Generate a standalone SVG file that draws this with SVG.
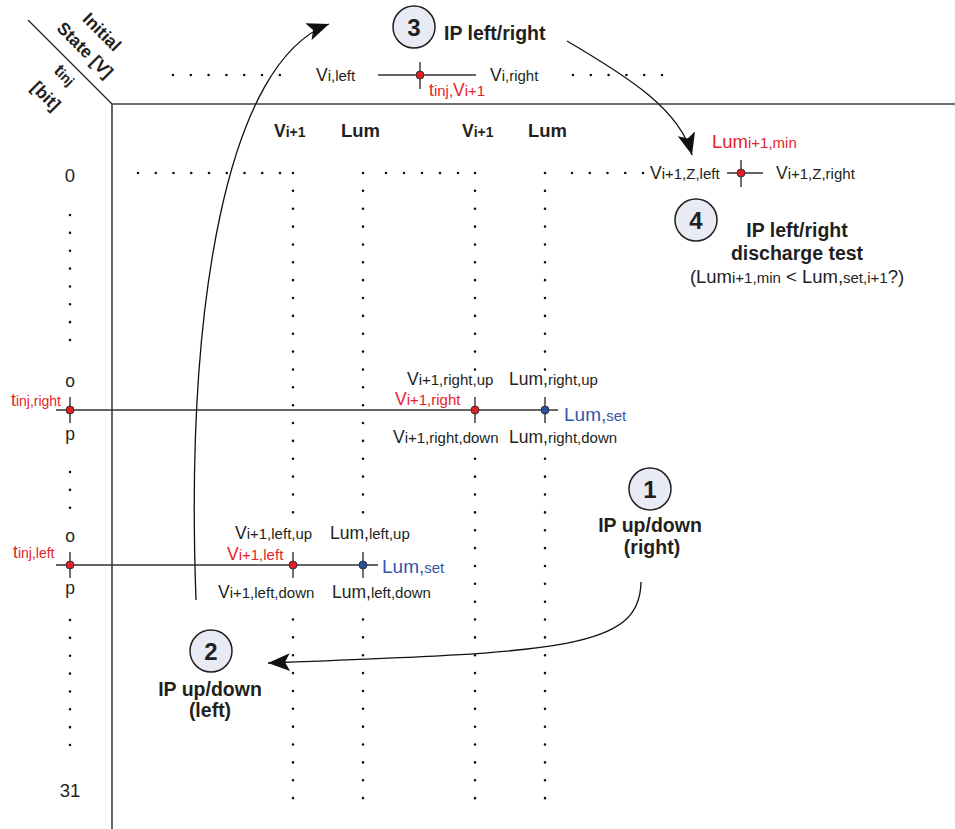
<svg xmlns="http://www.w3.org/2000/svg" width="955" height="829" viewBox="0 0 955 829">
  <style>
    text { font-family: "Liberation Sans", Arial, sans-serif; font-size: 17.5px; fill: #231f20; }
    .s { font-size: 15px; }
    .st { font-size: 14px; }
    .b { font-weight: bold; }
    .red { fill: #e5232b; }
    .blue { fill: #3556a8; }
    .mid { text-anchor: middle; }
    .axis { stroke: #404040; stroke-width: 1.6; fill: none; }
    .row { stroke: #333; stroke-width: 1.4; fill: none; }
    .tick { stroke: #333; stroke-width: 1.4; }
    .dots { stroke: #111; stroke-width: 2.6; stroke-linecap: round; fill: none; }
    .d1 { stroke-dasharray: 0 17.86; }
    .d2 { stroke-dasharray: 0 17.8; }
    .d3 { stroke-dasharray: 0 17.75; }
    .d4 { stroke-dasharray: 0 18; }
    .pr { fill: #e31e24; stroke: #2a2a2a; stroke-width: 0.9; }
    .pb { fill: #2e4f9e; stroke: #2a2a2a; stroke-width: 0.9; }
    .step { fill: #e8ebf4; stroke: #231f20; stroke-width: 1.5; }
    .num { font-size: 24px; font-weight: bold; text-anchor: middle; }
    .title { font-size: 19.5px; font-weight: bold; }
    .conn { stroke: #111; stroke-width: 1.3; fill: none; marker-end: url(#ah); }
  </style>
  <defs>
    <marker id="ah" markerUnits="userSpaceOnUse" viewBox="0 0 22 18" markerWidth="22" markerHeight="18" refX="22" refY="9" orient="auto">
      <path d="M0,0 L22,9 L0,18 L5,9 z" fill="#111"/>
    </marker>
  </defs>

  <!-- axes -->
  <g id="axes">
    <path class="axis" d="M112 104 H955 M112 104 V829"/>
    <path d="M28 20 L112 104" stroke="#222" stroke-width="1.2"/>
    <text class="b mid" transform="translate(102,32) rotate(45)" y="6">Initial</text>
    <text class="b mid" transform="translate(85,50) rotate(45)" y="6">State [V]</text>
    <text class="b mid" transform="translate(65,75) rotate(45)" y="6">t<tspan class="st">inj</tspan></text>
    <text class="b mid" transform="translate(46,96) rotate(45)" y="6">[bit]</text>
  </g>

  <!-- dotted grid -->
  <g id="grid">
    <path class="dots d2" d="M173 75 H280.5 M573 75 H662.5"/>
    <path class="dots d3" d="M138 173 H280.5 M572 173 H643.5"/>
    <path class="dots d4" d="M386 173 H458.5"/>
    <path class="dots d1" d="M293 173 V512.5 M293 619.5 V798.5 M363 173 V512.5 M363 619.5 V798.5"/>
    <path class="dots d1" d="M475 173 V369.7 M475 458.8 V798.5 M545 173 V369.7 M545 458.8 V798.5"/>
    <path class="dots d1" d="M70 215 V340.2 M70 472 V508 M70 620 V745.2"/>
  </g>

  <!-- row / column captions -->
  <g id="captions">
    <text class="b" x="274" y="137">V<tspan class="st">i+1</tspan></text>
    <text class="b" x="341" y="137" style="font-size:18.5px">Lum</text>
    <text class="b" x="462" y="137">V<tspan class="st">i+1</tspan></text>
    <text class="b" x="528" y="137" style="font-size:18.5px">Lum</text>
    <text class="mid" x="70" y="182" style="font-size:18.5px">0</text>
    <text class="mid" x="70" y="797" style="font-size:18.5px">31</text>
  </g>

  <!-- initial state crosshair -->
  <g id="state-i">
    <path class="row" d="M378 75 H476"/>
    <path class="tick" d="M420 62 V89"/>
    <circle class="pr" cx="420" cy="75" r="4"/>
    <text x="316" y="81">V<tspan class="s">i,left</tspan></text>
    <text x="490" y="81">V<tspan class="s">i,right</tspan></text>
    <text class="red" x="429" y="96">t<tspan class="s">inj,</tspan>V<tspan class="s">i+1</tspan></text>
  </g>

  <!-- next state crosshair -->
  <g id="state-next">
    <path class="row" d="M727 173 H763"/>
    <path class="tick" d="M741 160 V187"/>
    <circle class="pr" cx="741" cy="173" r="4"/>
    <text class="red" x="712" y="148" style="font-size:18.5px">Lum<tspan class="s">i+1,min</tspan></text>
    <text x="650" y="179">V<tspan class="s">i+1,Z,left</tspan></text>
    <text x="776" y="179">V<tspan class="s">i+1,Z,right</tspan></text>
  </g>

  <!-- right injection row -->
  <g id="row-right">
    <path class="row" d="M56 410 H558"/>
    <path class="tick" d="M70 397 V423 M475 397 V423 M545 397 V423"/>
    <circle class="pr" cx="70" cy="410" r="4"/>
    <circle class="pr" cx="475" cy="410" r="4"/>
    <circle class="pb" cx="545" cy="410" r="4"/>
    <text class="mid" x="70" y="387">o</text>
    <text class="mid" x="70" y="440">p</text>
    <text class="red" x="11" y="406">t<tspan class="st">inj,right</tspan></text>
    <text x="407" y="385">V<tspan class="s">i+1,right,up</tspan></text>
    <text x="509" y="385">Lum,<tspan class="s">right,up</tspan></text>
    <text class="red" x="395" y="405">V<tspan class="s">i+1,right</tspan></text>
    <text class="blue" x="564" y="421" style="font-size:19px">Lum,<tspan class="s">set</tspan></text>
    <text x="393" y="443">V<tspan class="s">i+1,right,down</tspan></text>
    <text x="509" y="443">Lum,<tspan class="s">right,down</tspan></text>
  </g>

  <!-- left injection row -->
  <g id="row-left">
    <path class="row" d="M56 565 H378"/>
    <path class="tick" d="M70 552 V578 M293 552 V578 M363 552 V578"/>
    <circle class="pr" cx="70" cy="565" r="4"/>
    <circle class="pr" cx="293" cy="565" r="4"/>
    <circle class="pb" cx="363" cy="565" r="4"/>
    <text class="mid" x="70" y="542">o</text>
    <text class="mid" x="70" y="594">p</text>
    <text class="red" x="13" y="558">t<tspan class="st">inj,left</tspan></text>
    <text x="235" y="539">V<tspan class="s">i+1,left,up</tspan></text>
    <text x="330" y="539">Lum,<tspan class="s">left,up</tspan></text>
    <text class="red" x="227" y="560">V<tspan class="s">i+1,left</tspan></text>
    <text class="blue" x="382" y="573" style="font-size:19px">Lum,<tspan class="s">set</tspan></text>
    <text x="218" y="598">V<tspan class="s">i+1,left,down</tspan></text>
    <text x="332" y="598">Lum,<tspan class="s">left,down</tspan></text>
  </g>

  <!-- process steps -->
  <g id="step1">
    <circle class="step" cx="650" cy="489" r="21"/>
    <text class="num" x="650" y="498">1</text>
    <text class="title mid" x="650" y="532">IP up/down</text>
    <text class="title mid" x="652" y="554">(right)</text>
  </g>
  <g id="step2">
    <circle class="step" cx="211" cy="651" r="21"/>
    <text class="num" x="211" y="660">2</text>
    <text class="title mid" x="210" y="696">IP up/down</text>
    <text class="title mid" x="210" y="717">(left)</text>
  </g>
  <g id="step3">
    <circle class="step" cx="414" cy="27" r="21"/>
    <text class="num" x="414" y="36">3</text>
    <text class="title" x="444" y="40">IP left/right</text>
  </g>
  <g id="step4">
    <circle class="step" cx="696" cy="220" r="21"/>
    <text class="num" x="696" y="229">4</text>
    <text class="title mid" x="797" y="237">IP left/right</text>
    <text class="title mid" x="797" y="260">discharge test</text>
    <text class="mid" x="797" y="283" style="font-size:18.5px">(Lum<tspan class="s">i+1,min</tspan> &lt; Lum,<tspan class="s">set,i+1</tspan>?)</text>
  </g>

  <!-- connectors -->
  <g id="connectors">
    <path class="conn" d="M641 582 C 640 650, 560 652, 268 663"/>
    <path class="conn" d="M196 600 C 185 300, 228 62, 329 24"/>
    <path class="conn" d="M567 41 C 630 78, 680 110, 692 155"/>
  </g>
</svg>
